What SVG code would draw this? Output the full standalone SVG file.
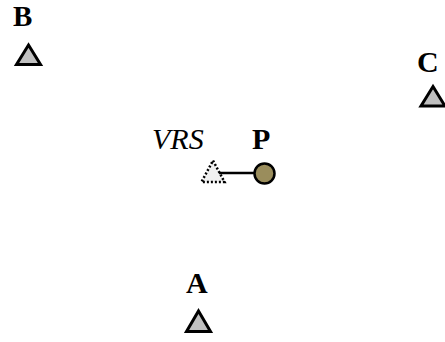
<svg xmlns="http://www.w3.org/2000/svg" width="445" height="342" viewBox="0 0 445 342">
<style>
.lbl{font-family:"Liberation Serif","Times New Roman",serif;font-size:30px;fill:#000}
.b{font-weight:bold}
.i{font-style:italic}
.tri{fill:#c0c0c0;stroke:#000;stroke-width:3;stroke-linejoin:miter}
.vtri{fill:#f0f0f0;stroke:#000;stroke-width:2.5;stroke-dasharray:2 2}
.conn{stroke:#000;stroke-width:2.5;fill:none}
</style>
<rect width="445" height="342" fill="#fff"/>
<g id="node-B">
<text class="lbl b" x="13" y="26" style="font-size:29px">B</text>
<polygon class="tri" points="28.5,45 40.5,64.5 16.5,64.5"/>
</g>
<g id="node-C">
<text class="lbl b" x="417" y="72">C</text>
<polygon class="tri" points="433,86.5 445,106 421,106"/>
</g>
<g id="node-A">
<text class="lbl b" x="186" y="293">A</text>
<polygon class="tri" points="198.5,311 210.5,331.5 186.5,331.5"/>
</g>
<g id="node-VRS">
<text class="lbl i" x="152" y="149">VRS</text>
<polygon class="vtri" points="213,160.5 224.5,182 201.5,182"/>
</g>
<g id="node-P">
<text class="lbl b" x="252" y="149">P</text>
<circle cx="264.5" cy="173.5" r="10" fill="#9a8d5c" stroke="#000" stroke-width="2.5"/>
</g>
<g id="connectors">
<line class="conn" x1="219" y1="173" x2="254.5" y2="173"/>
</g>
</svg>
